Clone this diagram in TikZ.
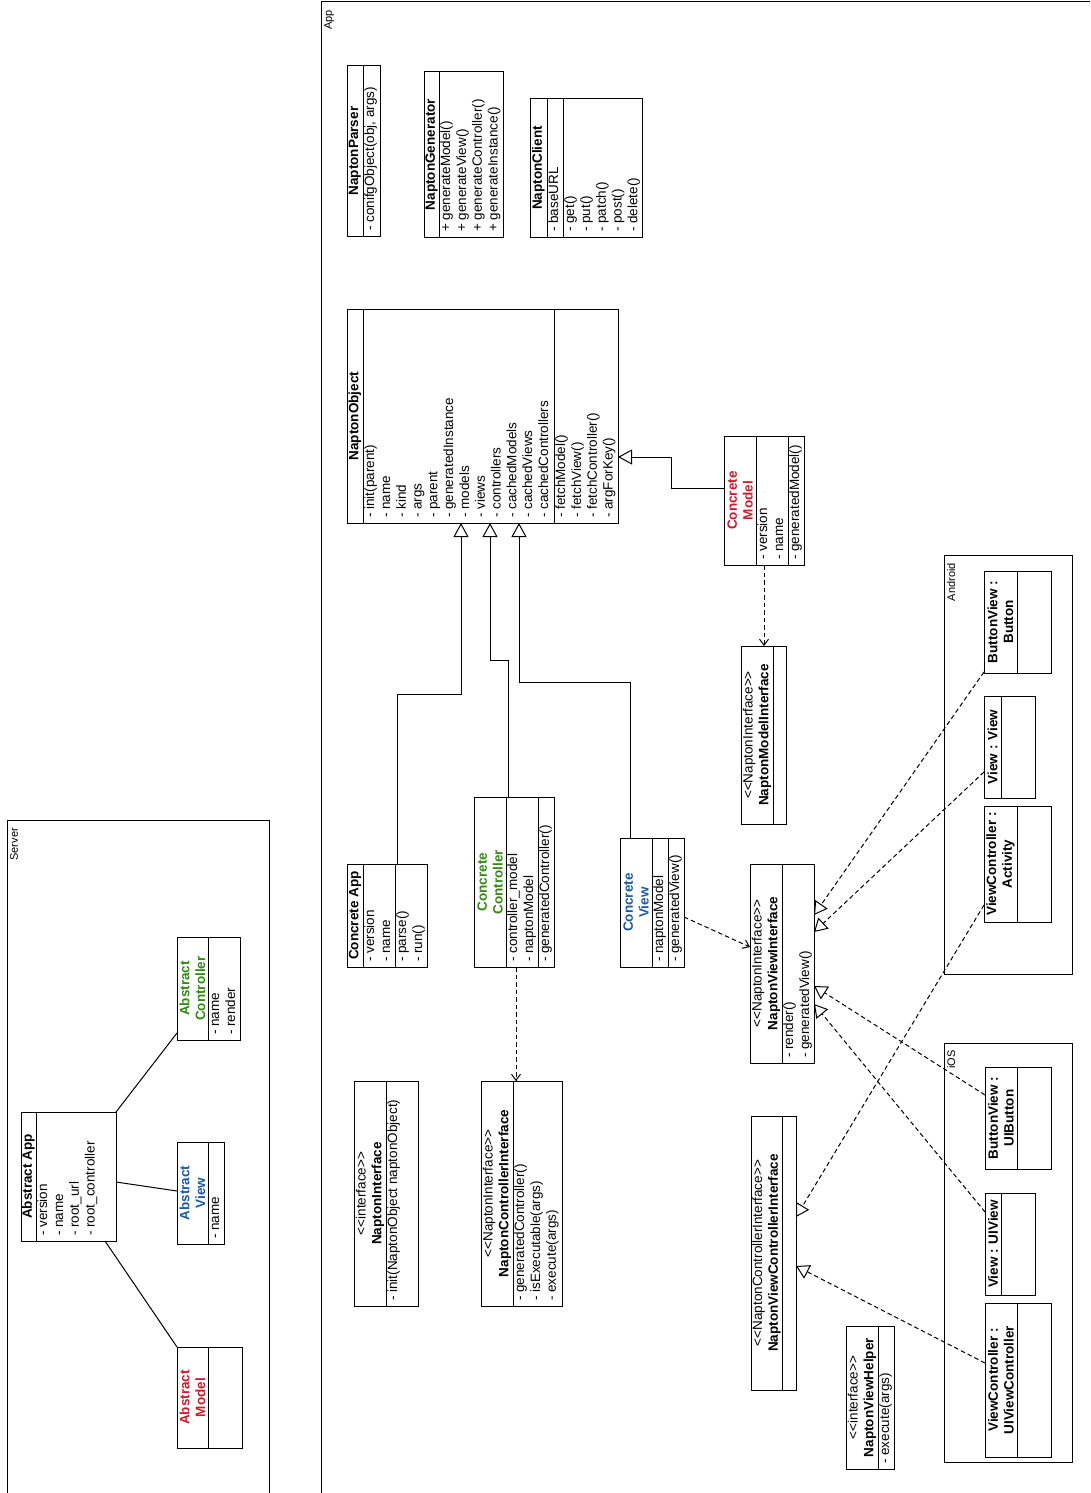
\documentclass[tikz,border=0pt]{standalone}
\usepackage{fontspec}
\setmainfont{Liberation Sans}
\usetikzlibrary{arrows.meta}
\definecolor{absred}{HTML}{CC1B2B}
\definecolor{absgreen}{HTML}{338A12}
\definecolor{absblue}{HTML}{1A5AA6}

% class box spanning (x1,y1)-(x2,y2); y grows downwards
\newcommand\umlcls[5]{%
  \node[umlbox, minimum width={(#4-#2)*1pt}, minimum height={(#5-#3)*1pt}]
    (#1) at ({(#2+#4)/2},{(#3+#5)/2}) {};}
% vertical compartment divider inside a box
\newcommand\umldiv[3]{\draw[divider] (#1,#2) -- (#1,#3);}
\newcommand\stereo[1]{{\mdseries <\kern0pt<#1>\kern0pt>}}
% fixed first-line height for member lists
\newcommand\fl{\rule{0pt}{10pt}}

\tikzset{
  umlbox/.style={draw, line width=1pt, inner sep=0pt, outer sep=0pt},
  divider/.style={line width=1pt},
  ttl/.style={rotate=90, align=center, inner sep=0pt,
    font=\fontsize{13.5}{15.8}\selectfont\bfseries},
  mem/.style={rotate=90, align=left, anchor=north west, inner xsep=5pt,
    inner ysep=1pt, font=\fontsize{13.5}{15.8}\selectfont},
  grp/.style={rotate=90, anchor=north east, inner sep=0pt,
    font=\fontsize{11}{13}\selectfont},
  gen/.style={line width=1pt, -{Triangle[open, length=14pt, width=15pt]}},
  real/.style={line width=1pt, dash pattern=on 4.5pt off 3pt,
    -{Triangle[open, length=13pt, width=15pt]}},
  dep/.style={line width=1pt, dash pattern=on 4.5pt off 3pt,
    -{Straight Barb[length=6pt, width=9pt]}},
  assoc/.style={line width=1pt},
}

\begin{document}
\begin{tikzpicture}[x=1pt, y=-1pt]
\useasboundingbox (0,0) rectangle (1090,1493);
\clip (0,0) rectangle (1090,1493);

% ---------------- Server ----------------
\umlcls{srv}{7}{820}{269}{1500}
\node[grp] (srv-l) at (10,828) {Server};

\umlcls{aapp}{21}{1112}{116}{1241}
\umldiv{36}{1112}{1241}
\node[ttl] (aapp-t) at (28.5,1176.5) {Abstract App};
\node[mem] (aapp-a) at (36,1241) {\fl- version\\- name\\- root\_url\\- root\_controller};

\umlcls{actl}{177}{937}{240}{1040}
\umldiv{208}{937}{1040}
\node[ttl, text=absgreen] (actl-t) at (192.5,988.5) {Abstract\\Controller};
\node[mem] (actl-a) at (208,1040) {\fl- name\\- render};

\umlcls{aview}{177}{1142}{224}{1244}
\umldiv{208}{1142}{1244}
\node[ttl, text=absblue] (aview-t) at (192.5,1193) {Abstract\\View};
\node[mem] (aview-a) at (208,1244) {\fl- name};

\umlcls{amod}{177}{1347}{242}{1448}
\umldiv{208}{1347}{1448}
\node[ttl, text=absred] (amod-t) at (192.5,1397.5) {Abstract\\Model};

\coordinate (s1) at (0,1033);
\coordinate (s2) at (0,1182);
\coordinate (s3) at (0,1191);
\coordinate (s4) at (105,0);
\draw[assoc] (aapp.north east) -- (actl.west |- s1);
\draw[assoc] (aapp.east |- s2) -- (aview.west |- s3);
\draw[assoc] (aapp.south -| s4) -- (amod.north west);

% ---------------- App ----------------
\umlcls{appf}{321}{2}{1100}{1500}
\node[grp] (appf-l) at (324,10) {App};

\umlcls{parser}{347}{66}{380}{236}
\umldiv{363}{66}{236}
\node[ttl] (parser-t) at (355,151) {NaptonParser};
\node[mem] (parser-m) at (363,236) {\fl- conifgObject(obj, args)};

\umlcls{gen}{424}{72}{503}{237}
\umldiv{439}{72}{237}
\node[ttl] (gen-t) at (431.5,154.5) {NaptonGenerator};
\node[mem] (gen-m) at (439,237) {\fl+ generateModel()\\+ generateView()\\+ generateController()\\+ generateInstance()};

\umlcls{client}{530}{99}{642}{237}
\umldiv{547}{99}{237}
\umldiv{563}{99}{237}
\node[ttl] (client-t) at (538.5,168) {NaptonClient};
\node[mem] (client-a) at (547,237) {\fl- baseURL};
\node[mem] (client-m) at (563,237) {\fl- get()\\- put()\\- patch()\\- post()\\- delete()};

\umlcls{nobj}{347}{309}{618}{523}
\umldiv{363}{309}{523}
\umldiv{554}{309}{523}
\node[ttl] (nobj-t) at (355,416) {NaptonObject};
\node[mem] (nobj-a) at (363,523) {\fl- init(parent)\\- name\\- kind\\- args\\- parent\\- generatedInstance\\- models\\- views\\- controllers\\- cachedModels\\- cachedViews\\- cachedControllers};
\node[mem] (nobj-m) at (554,523) {\fl- fetchModel()\\- fetchView()\\- fetchController()\\- argForKey()};

\umlcls{cmodel}{724}{436}{804}{565}
\umldiv{756}{436}{565}
\umldiv{788}{436}{565}
\node[ttl, text=absred] (cmodel-t) at (740,500.5) {Concrete\\Model};
\node[mem] (cmodel-a) at (756,565) {\fl- version\\- name};
\node[mem] (cmodel-m) at (788,565) {\fl- generatedModel()};

\umlcls{mint}{741}{646}{786}{824}
\umldiv{773}{646}{824}
\node[ttl] (mint-t) at (757,735) {\stereo{NaptonInterface}\\NaptonModelInterface};

\umlcls{capp}{347}{864}{427}{967}
\umldiv{363}{864}{967}
\umldiv{395}{864}{967}
\node[ttl] (capp-t) at (355,915.5) {Concrete App};
\node[mem] (capp-a) at (363,967) {\fl- version\\- name};
\node[mem] (capp-m) at (395,967) {\fl- parse()\\- run()};

\umlcls{cctl}{474}{797}{554}{967}
\umldiv{506}{797}{967}
\umldiv{538}{797}{967}
\node[ttl, text=absgreen] (cctl-t) at (490,882) {Concrete\\Controller};
\node[mem] (cctl-a) at (506,967) {\fl- controller\_model\\- naptonModel};
\node[mem] (cctl-m) at (538,967) {\fl- generatedController()};

\umlcls{cview}{620}{838}{684}{967}
\umldiv{652}{838}{967}
\umldiv{668}{838}{967}
\node[ttl, text=absblue] (cview-t) at (636,902.5) {Concrete\\View};
\node[mem] (cview-a) at (652,967) {\fl- naptonModel};
\node[mem] (cview-m) at (668,967) {\fl- generatedView()};

\umlcls{nint}{354}{1081}{418}{1306}
\umldiv{386}{1081}{1306}
\node[ttl] (nint-t) at (370,1193.5) {\stereo{interface}\\NaptonInterface};
\node[mem] (nint-m) at (386,1306) {\fl- init(NaptonObject naptonObject)};

\umlcls{cint}{481}{1081}{562}{1306}
\umldiv{513}{1081}{1306}
\node[ttl] (cint-t) at (497,1193.5) {\stereo{NaptonInterface}\\NaptonControllerInterface};
\node[mem] (cint-m) at (513,1306) {\fl- generatedController()\\- isExecutable(args)\\- execute(args)};

\umlcls{vint}{750}{864}{814}{1063}
\umldiv{782}{864}{1063}
\node[ttl] (vint-t) at (766,963.5) {\stereo{NaptonInterface}\\NaptonViewInterface};
\node[mem] (vint-m) at (782,1063) {\fl- render()\\- generatedView()};

\umlcls{vcint}{751}{1116}{796}{1390}
\umldiv{782}{1116}{1390}
\node[ttl] (vcint-t) at (766.5,1253) {\stereo{NaptonControllerInterface}\\NaptonViewControllerInterface};

\umlcls{helper}{846}{1326}{894}{1469}
\umldiv{878}{1326}{1469}
\node[ttl] (helper-t) at (862,1397.5) {\stereo{interface}\\NaptonViewHelper};
\node[mem] (helper-m) at (878,1469) {\fl- execute(args)};

% Android platform classes
\umlcls{andf}{944}{555}{1072}{974}
\node[grp] (andf-l) at (947,563) {Android};

\umlcls{abtn}{984}{571}{1051}{673}
\umldiv{1017}{571}{673}
\node[ttl] (abtn-t) at (1000.5,622) {ButtonView :\\Button};

\umlcls{avv}{984}{696}{1035}{798}
\umldiv{1001}{696}{798}
\node[ttl] (avv-t) at (992.5,747) {View : View};

\umlcls{avc}{984}{806}{1051}{922}
\umldiv{1017}{806}{922}
\node[ttl] (avc-t) at (1000.5,864) {ViewController :\\Activity};

% iOS platform classes
\umlcls{iosf}{944}{1043}{1072}{1462}
\node[grp] (iosf-l) at (947,1050) {iOS};

\umlcls{ibtn}{985}{1067}{1051}{1169}
\umldiv{1017}{1067}{1169}
\node[ttl] (ibtn-t) at (1001,1118) {ButtonView :\\UIButton};

\umlcls{iview}{985}{1193}{1035}{1295}
\umldiv{1001}{1193}{1295}
\node[ttl] (iview-t) at (993,1244) {View : UIView};

\umlcls{ivc}{985}{1303}{1051}{1457}
\umldiv{1017}{1303}{1457}
\node[ttl] (ivc-t) at (1001,1380) {ViewController :\\UIViewController};

% ---------------- generalisations ----------------
\coordinate (k1) at (397,694);
\coordinate (k2) at (461,694);
\draw[gen] (capp.north -| k1) -- (k1) -- (k2) -- (nobj.south -| k2);
\coordinate (k3) at (508,660);
\coordinate (k4) at (490,660);
\draw[gen] (cctl.north -| k3) -- (k3) -- (k4) -- (nobj.south -| k4);
\coordinate (k5) at (630,682);
\coordinate (k6) at (519,682);
\draw[gen] (cview.north -| k5) -- (k5) -- (k6) -- (nobj.south -| k6);
\coordinate (k7) at (671,488);
\coordinate (k8) at (671,457);
\draw[gen] (cmodel.west |- k7) -- (k7) -- (k8) -- (nobj.east |- k8);

% ---------------- dependencies ----------------
\coordinate (d1) at (764,0);
\draw[dep] (cmodel.south -| d1) -- (mint.north -| d1);
\coordinate (d2) at (516,0);
\draw[dep] (cctl.south -| d2) -- (cint.north -| d2);
\coordinate (d3) at (0,917);
\coordinate (d4) at (0,947);
\draw[dep] (cview.east |- d3) -- (vint.west |- d4);

% ---------------- realisations ----------------
\coordinate (r1) at (0,672);  \coordinate (e1) at (0,915);
\coordinate (r2) at (0,772);  \coordinate (e2) at (0,932);
\coordinate (r3) at (0,1095); \coordinate (e3) at (0,986);
\coordinate (r4) at (0,1212); \coordinate (e4) at (0,1004);
\coordinate (r5) at (0,905);  \coordinate (e5) at (0,1217);
\coordinate (r6) at (0,1363); \coordinate (e6) at (0,1266);
\draw[real] (abtn.west |- r1) -- (vint.east |- e1);
\draw[real] (avv.west |- r2) -- (vint.east |- e2);
\draw[real] (ibtn.west |- r3) -- (vint.east |- e3);
\draw[real] (iview.west |- r4) -- (vint.east |- e4);
\draw[real] (avc.west |- r5) -- (vcint.east |- e5);
\draw[real] (ivc.west |- r6) -- (vcint.east |- e6);
\end{tikzpicture}
\end{document}
